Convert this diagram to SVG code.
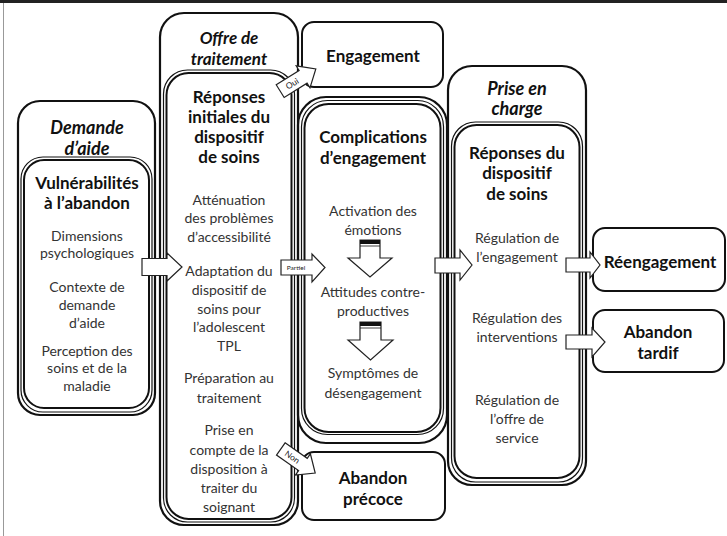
<svg xmlns="http://www.w3.org/2000/svg" width="727" height="536" viewBox="0 0 727 536">
<style>
text{font-family:Lato,"Open Sans","Liberation Sans",sans-serif;text-anchor:middle}
.hd{font-size:18px;font-weight:bold;font-style:italic;fill:#111}
.tt{font-size:17px;font-weight:bold;fill:#111}
.tx{font-size:14px;fill:#333}
.lb{font-size:6.5px;fill:#222}
.o{fill:none;stroke:#111;stroke-width:2.2}
.i1{fill:none;stroke:#111;stroke-width:1.2}
.i2{fill:none;stroke:#111;stroke-width:2}
.bx{fill:#fff;stroke:#111;stroke-width:2}
.ar{fill:#fff;stroke:#222;stroke-width:1.2;stroke-linejoin:miter}
</style>
<rect x="0" y="0" width="727" height="536" fill="#fff"/>
<rect x="0" y="0" width="727" height="3" fill="#222"/>
<line x1="3.5" y1="3" x2="3.5" y2="536" stroke="#999" stroke-width="1"/>

<g id="demande">
<rect class="o" x="18" y="101" width="137" height="314" rx="22"/>
<rect class="i1" x="21" y="157" width="131" height="255" rx="22"/>
<rect class="i2" x="24" y="160" width="125" height="248" rx="20"/>
<text class="hd" x="87" y="134">Demande</text>
<text class="hd" x="87" y="155">d’aide</text>
<text class="tt" x="87" y="189">Vulnérabilités</text>
<text class="tt" x="87" y="209">à l’abandon</text>
<text class="tx" x="87" y="241">Dimensions</text>
<text class="tx" x="87" y="258">psychologiques</text>
<text class="tx" x="87" y="292">Contexte de</text>
<text class="tx" x="87" y="310">demande</text>
<text class="tx" x="87" y="328">d’aide</text>
<text class="tx" x="87" y="356">Perception des</text>
<text class="tx" x="87" y="373">soins et de la</text>
<text class="tx" x="87" y="391">maladie</text>
</g>

<g id="offre">
<rect class="o" x="160" y="13" width="138" height="512" rx="24"/>
<rect class="i1" x="163.5" y="70" width="131" height="452" rx="24"/>
<rect class="i2" x="166.5" y="73" width="125" height="446" rx="22"/>
<text class="hd" x="229" y="44" style="font-size:17px">Offre de</text>
<text class="hd" x="229" y="65" style="font-size:17px">traitement</text>
<text class="tt" x="229" y="103">Réponses</text>
<text class="tt" x="229" y="123">initiales du</text>
<text class="tt" x="229" y="143">dispositif</text>
<text class="tt" x="229" y="163">de soins</text>
<text class="tx" x="229" y="205">Atténuation</text>
<text class="tx" x="229" y="223">des problèmes</text>
<text class="tx" x="229" y="242">d’accessibilité</text>
<text class="tx" x="229" y="276">Adaptation du</text>
<text class="tx" x="229" y="295">dispositif de</text>
<text class="tx" x="229" y="314">soins pour</text>
<text class="tx" x="229" y="332">l’adolescent</text>
<text class="tx" x="229" y="351">TPL</text>
<text class="tx" x="229" y="383">Préparation au</text>
<text class="tx" x="229" y="403">traitement</text>
<text class="tx" x="229" y="435">Prise en</text>
<text class="tx" x="229" y="455">compte de la</text>
<text class="tx" x="229" y="474">disposition à</text>
<text class="tx" x="229" y="493">traiter du</text>
<text class="tx" x="229" y="512">soignant</text>
</g>

<g id="engagement">
<rect class="bx" x="302" y="22" width="141" height="65" rx="12"/>
<text class="tt" x="373" y="62">Engagement</text>
</g>

<g id="complications">
<rect class="o" x="298" y="97" width="149" height="346" rx="28"/>
<rect class="i1" x="301.5" y="100.5" width="142" height="334" rx="26"/>
<rect class="i2" x="304.5" y="104" width="136" height="328" rx="24"/>
<text class="tt" x="373" y="143">Complications</text>
<text class="tt" x="373" y="164">d’engagement</text>
<text class="tx" x="373" y="216">Activation des</text>
<text class="tx" x="373" y="235">émotions</text>
<text class="tx" x="373" y="297">Attitudes contre-</text>
<text class="tx" x="373" y="316">productives</text>
<text class="tx" x="373" y="378">Symptômes de</text>
<text class="tx" x="373" y="398">désengagement</text>
<path class="ar" d="M360,240 L380,240 L380,258 L392,258 L370,277 L348,258 L360,258 Z"/>
<rect x="360" y="240" width="20" height="4" fill="#111"/>
<line x1="360" y1="246" x2="380" y2="246" stroke="#111" stroke-width="0.8"/>
<path class="ar" d="M360,322 L381,322 L381,340 L393,340 L370.5,360 L348,340 L360,340 Z"/>
<rect x="360" y="322" width="21" height="4" fill="#111"/>
<line x1="360" y1="328" x2="381" y2="328" stroke="#111" stroke-width="0.8"/>
</g>

<g id="abandon-precoce">
<rect class="bx" x="302" y="452" width="143" height="68" rx="12"/>
<text class="tt" x="373" y="484">Abandon</text>
<text class="tt" x="373" y="505">précoce</text>
</g>

<g id="prise">
<rect class="o" x="448" y="66" width="138" height="419" rx="24"/>
<rect class="i1" x="451.5" y="122" width="131" height="360" rx="24"/>
<rect class="i2" x="454.5" y="125" width="125" height="353" rx="22"/>
<text class="hd" x="517" y="95">Prise en</text>
<text class="hd" x="517" y="115">charge</text>
<text class="tt" x="517" y="159">Réponses  du</text>
<text class="tt" x="517" y="179">dispositif</text>
<text class="tt" x="517" y="200">de soins</text>
<text class="tx" x="517" y="243">Régulation de</text>
<text class="tx" x="517" y="262">l’engagement</text>
<text class="tx" x="517" y="323">Régulation des</text>
<text class="tx" x="517" y="342">interventions</text>
<text class="tx" x="517" y="405">Régulation de</text>
<text class="tx" x="517" y="424">l’offre de</text>
<text class="tx" x="517" y="443">service</text>
</g>

<g id="reengagement">
<rect class="bx" x="593" y="228" width="132" height="63" rx="12"/>
<text class="tt" x="660" y="268">Réengagement</text>
</g>

<g id="abandon-tardif">
<rect class="bx" x="593" y="310" width="131" height="62" rx="12"/>
<text class="tt" x="658" y="338">Abandon</text>
<text class="tt" x="658" y="359">tardif</text>
</g>

<g id="connectors">
<path class="ar" d="M142,258.5 L167,258.5 L167,253 L182,267 L167,281 L167,275.5 L142,275.5 Z"/>
<path class="ar" d="M281,260 L312,260 L312,254 L325,267.5 L312,282 L312,275 L281,275 Z"/>
<text class="lb" x="296" y="270">Partiel</text>
<path class="ar" d="M435,258 L460,258 L460,250 L472,265 L460,280 L460,273 L435,273 Z"/>
<path class="ar" d="M566,258 L590,258 L590,252 L600,265 L590,278 L590,272 L566,272 Z"/>
<path class="ar" d="M566,335 L592,335 L592,328 L605,342 L592,357 L592,349 L566,349 Z"/>
<g transform="translate(298,80) rotate(-32)">
<path class="ar" d="M-21,-7.5 L6,-7.5 L6,-13 L21,0 L6,13 L6,7.5 L-21,7.5 Z"/>
<text class="lb" x="-7" y="3" style="font-size:8.5px">Oui</text>
</g>
<g transform="translate(298,461) rotate(35)">
<path class="ar" d="M-21,-7.5 L6,-7.5 L6,-13 L21,0 L6,13 L6,7.5 L-21,7.5 Z"/>
<text class="lb" x="-7" y="3" style="font-size:8.5px">Non</text>
</g>
</g>
</svg>
